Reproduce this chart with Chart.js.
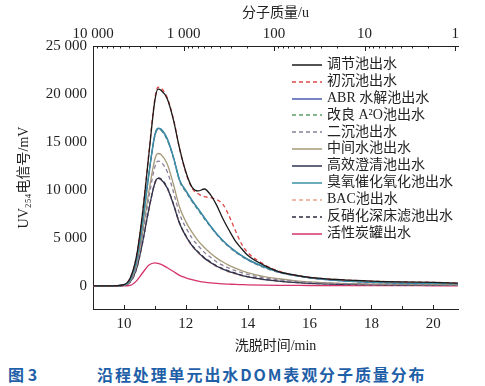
<!DOCTYPE html>
<html>
<head>
<meta charset="utf-8">
<script src="https://cdn.jsdelivr.net/npm/chart.js@4.4.1/dist/chart.umd.min.js"></script>
<style>
  body { margin: 0; background: #fff; width: 485px; height: 386px; position: relative; overflow: hidden; }
  #chart { position: absolute; left: 0; top: 0; }
  .legend { position: absolute; left: 292px; top: 56px; font-family: 'Liberation Serif', 'Noto Sans CJK SC', serif; font-size: 14px; color: #222; }
  .legend .row { height: 16.9px; line-height: 16.9px; white-space: nowrap; }
  .legend svg { vertical-align: middle; margin-right: 5px; }
  .caption { position: absolute; top: 362px; font-family: 'Noto Sans CJK SC', sans-serif; font-weight: bold; font-size: 16px; color: #1f5fa8; white-space: nowrap; }
</style>
</head>
<body>
<canvas id="chart" width="485" height="360"></canvas>
<div id="legend"></div>
<div class="caption" style="left:8px">图 3</div>
<div class="caption" style="left:97px; letter-spacing:1.9px">沿程处理单元出水DOM表观分子质量分布</div>
<script>
// elution time (min)
var times = [9, 9.5, 10, 10.2, 10.4, 10.6, 10.8, 11.0, 11.1, 11.2, 11.4, 11.6, 11.8, 12.0, 12.2, 12.4, 12.6, 12.8, 13.0, 13.2, 13.4, 13.6, 13.8, 14.0, 14.5, 15, 15.5, 16, 17, 18, 19, 20, 20.8];

// UV254 signal (mV) for each unit
var equalization = [0, 0, 150, 800, 3000, 7500, 13500, 19300, 20500, 20400, 19500, 17300, 14300, 11900, 10300, 9900, 10100, 9500, 8400, 7000, 5800, 4700, 3900, 3200, 2200, 1500, 1150, 900, 650, 500, 420, 380, 300];
var primary = [0, 0, 150, 800, 3000, 7600, 13700, 19500, 20700, 20600, 19600, 17400, 14300, 11800, 10200, 9600, 9300, 9200, 9000, 8500, 7300, 5800, 4400, 3500, 2300, 1550, 1150, 900, 650, 500, 420, 380, 300];
var abr = [0, 0, 100, 600, 2500, 6500, 11500, 15700, 16400, 16300, 15300, 13400, 11000, 9900, 8900, 8000, 7100, 6200, 5400, 4700, 4100, 3600, 3150, 2750, 2000, 1450, 1100, 850, 550, 380, 300, 250, 220];
var a2o = [0, 0, 100, 580, 2450, 6400, 11400, 15600, 16300, 16200, 15200, 13300, 10900, 9800, 8800, 7900, 7000, 6150, 5350, 4650, 4050, 3550, 3100, 2700, 1950, 1420, 1080, 830, 540, 370, 290, 240, 210];
var secondary = [0, 0, 80, 450, 2000, 5200, 9100, 12400, 13000, 12900, 11900, 9800, 7500, 6100, 5000, 4200, 3500, 3000, 2500, 2150, 1850, 1600, 1400, 1200, 870, 650, 480, 370, 250, 180, 140, 120, 100];
var middle = [0, 0, 80, 500, 2100, 5500, 9700, 13200, 13800, 13700, 12700, 10600, 8200, 6700, 5600, 4700, 4000, 3400, 2900, 2500, 2150, 1850, 1600, 1400, 1000, 750, 550, 420, 280, 200, 160, 140, 120];
var clarifier = [0, 0, 70, 400, 1700, 4500, 7900, 10700, 11200, 11100, 10200, 8500, 6500, 5200, 4200, 3500, 2900, 2450, 2050, 1750, 1500, 1300, 1100, 950, 680, 500, 370, 280, 180, 130, 100, 90, 80];
var ozone = [0, 0, 100, 600, 2500, 6500, 11500, 15800, 16450, 16350, 15350, 13450, 11050, 9950, 8950, 8050, 7150, 6250, 5450, 4750, 4150, 3650, 3200, 2800, 2050, 1500, 1150, 880, 570, 390, 310, 260, 230];
var bac = [0, 0, 70, 390, 1680, 4450, 7850, 10650, 11150, 11050, 10150, 8450, 6450, 5150, 4150, 3450, 2850, 2400, 2000, 1700, 1450, 1250, 1070, 930, 660, 490, 360, 270, 170, 120, 95, 85, 75];
var denitrification = [0, 0, 70, 400, 1700, 4500, 7900, 10750, 11250, 11150, 10250, 8550, 6550, 5250, 4250, 3550, 2950, 2500, 2100, 1800, 1550, 1330, 1130, 980, 700, 520, 380, 290, 190, 140, 110, 95, 85];
var carbon = [0, 0, 0, 50, 500, 1350, 2150, 2400, 2350, 2250, 1900, 1500, 1100, 850, 650, 500, 400, 320, 260, 220, 190, 160, 140, 120, 90, 70, 60, 50, 40, 30, 30, 20, 20];

var seriesNames = ['调节池出水', '初沉池出水', 'ABR 水解池出水', '改良 A²O池出水', '二沉池出水', '中间水池出水', '高效澄清池出水', '臭氧催化氧化池出水', 'BAC池出水', '反硝化深床滤池出水', '活性炭罐出水'];
var seriesValues = [equalization, primary, abr, a2o, secondary, middle, clarifier, ozone, bac, denitrification, carbon];
var seriesColors = ['#1a1a1a', '#e04848', '#4a5cb0', '#5aa06a', '#8c7f99', '#a59a78', '#2e3350', '#3a92a4', '#e8a48c', '#2c2c3c', '#d6336e'];
var seriesDashed = [false, true, false, true, true, false, false, false, true, true, false];
var seriesOrder = [0, 1, 3, 3, 2, 2, 2, 1, 2, 2, 2];

// axis ticks
var yTicks = [0, 5000, 10000, 15000, 20000, 25000];
var xTicks = [10, 11, 12, 13, 14, 15, 16, 17, 18, 19, 20];
var massDecades = [1, 10, 100, 1000, 10000];

var FONT = "'Liberation Serif', 'Noto Sans CJK SC', serif";

function spaced(v) {
    return String(v).replace(/\B(?=(\d{3})+(?!\d))/g, ' ');
}

// log ticks 1..9 x 10^n for the molecular weight axis
function massTicks() {
    var ticks = [];
    massDecades.forEach(function(d) {
        for (var k = 1; k <= 9; k++) {
            if (d * k <= 10000) ticks.push({value: d * k});
        }
    });
    return ticks;
}

// inward tick marks on the top and bottom axes
var innerTicks = {
    id: 'innerTicks',
    afterDraw: function(chart) {
        var ctx = chart.ctx;
        var bx = chart.scales.x;
        var tx = chart.scales.x2;
        ctx.save();
        ctx.strokeStyle = '#222';
        ctx.lineWidth = 1;
        ctx.beginPath();
        bx.ticks.forEach(function(t) {
            var p = Math.round(bx.getPixelForValue(t.value)) + 0.5;
            var len = t.value % 2 === 0 ? 4 : 3;
            ctx.moveTo(p, bx.top);
            ctx.lineTo(p, bx.top - len);
        });
        tx.ticks.forEach(function(t) {
            var p = Math.round(tx.getPixelForValue(t.value)) + 0.5;
            var len = massDecades.indexOf(t.value) >= 0 ? 5 : 2.5;
            ctx.moveTo(p, tx.bottom);
            ctx.lineTo(p, tx.bottom + len);
        });
        ctx.stroke();
        ctx.restore();
    }
};

var datasets = seriesNames.map(function(name, i) {
    return {
        label: name,
        data: times.map(function(t, j) { return {x: t, y: seriesValues[i][j]}; }),
        borderColor: seriesColors[i],
        borderWidth: 1.3,
        borderDash: seriesDashed[i] ? [4, 3] : [],
        pointRadius: 0,
        fill: false,
        order: seriesOrder[i],
        cubicInterpolationMode: 'monotone',
        xAxisID: 'x',
        yAxisID: 'y'
    };
});

var noGrid = { display: false, drawTicks: false };

var ctx = document.getElementById('chart').getContext('2d');
var chart = new Chart(ctx, {
    type: 'line',
    data: { datasets: datasets },
    plugins: [innerTicks],
    options: {
        responsive: false,
        animation: false,
        layout: { padding: { top: 0, right: 27, bottom: 0, left: 0 } },
        plugins: { legend: { display: false }, tooltip: { enabled: false } },
        scales: {
            x: {
                type: 'linear',
                position: 'bottom',
                min: 9,
                max: 20.8,
                afterBuildTicks: function(s) { s.ticks = xTicks.map(function(v) { return {value: v}; }); },
                afterFit: function(s) { s.height = 51; },
                grid: noGrid,
                border: { display: true, color: '#222', width: 1 },
                ticks: {
                    autoSkip: false, maxRotation: 0, padding: 6, color: '#222',
                    font: { family: FONT, size: 15 },
                    callback: function(v) { return v % 2 === 0 ? String(v) : ''; }
                },
                title: { display: true, text: '洗脱时间/min', color: '#222', font: { family: FONT, size: 14 }, padding: { top: 0, bottom: 5 } }
            },
            x2: {
                type: 'logarithmic',
                axis: 'x',
                position: 'top',
                reverse: true,
                min: 0.93,
                max: 10000,
                afterBuildTicks: function(s) { s.ticks = massTicks(); },
                afterFit: function(s) { s.height = 46; },
                grid: noGrid,
                border: { display: true, color: '#222', width: 1 },
                ticks: {
                    autoSkip: false, maxRotation: 0, padding: 3, color: '#222',
                    font: { family: FONT, size: 15 },
                    callback: function(v) { return massDecades.indexOf(v) >= 0 ? spaced(v) : ''; }
                },
                title: { display: true, text: '分子质量/u', color: '#222', font: { family: FONT, size: 14 }, padding: { top: 5, bottom: 0 } }
            },
            y: {
                type: 'linear',
                min: -2400,
                max: 25000,
                afterBuildTicks: function(s) { s.ticks = yTicks.map(function(v) { return {value: v}; }); },
                afterFit: function(s) { s.width = 93; },
                grid: noGrid,
                border: { display: true, color: '#222', width: 1 },
                ticks: {
                    padding: 6, color: '#222',
                    font: { family: FONT, size: 15 },
                    callback: function(v) { return spaced(v); }
                },
                title: { display: true, text: 'UV₂₅₄电信号/mV', color: '#222', font: { family: FONT, size: 14 }, padding: { top: 16, bottom: 0 } }
            }
        }
    }
});

// legend built from the chart datasets
function legend(parent, data) {
    parent.className = 'legend';
    data.datasets.forEach(function(d) {
        var row = document.createElement('div');
        row.className = 'row';
        var dash = d.borderDash.length ? ' stroke-dasharray="4 3"' : '';
        row.innerHTML = '<svg width="30" height="4"><line x1="0" y1="2" x2="30" y2="2" stroke="' + d.borderColor + '" stroke-width="1.5"' + dash + '/></svg>';
        row.appendChild(document.createTextNode(d.label));
        parent.appendChild(row);
    });
}
legend(document.getElementById('legend'), chart.data);
</script>
</body>
</html>
